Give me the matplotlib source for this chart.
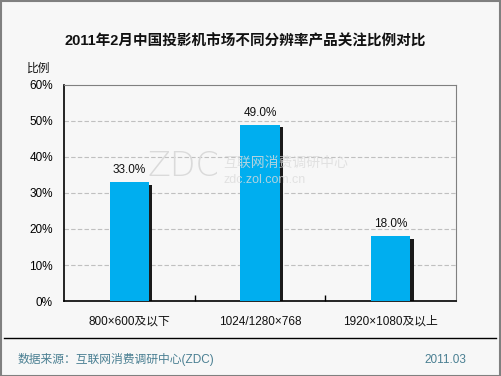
import matplotlib
matplotlib.use("Agg")
import matplotlib.pyplot as plt
from matplotlib.patches import Rectangle
from matplotlib.lines import Line2D

plt.rcParams['font.family'] = ['Liberation Sans', 'Noto Sans CJK SC', 'DejaVu Sans']

categories = ['800×600及以下', '1024/1280×768', '1920×1080及以上']
values = [33.0, 49.0, 18.0]
yticks = [0, 10, 20, 30, 40, 50, 60]
ytick_labels = ['0%', '10%', '20%', '30%', '40%', '50%', '60%']

W, H = 501, 376
fig = plt.figure(figsize=(W / 100, H / 100), dpi=100)
bg = '#f7f7f7'
fig.patch.set_facecolor(bg)

ax = fig.add_axes([64 / W, 1 - 301 / H, (456 - 64) / W, (301 - 85) / H])
ax.set_facecolor(bg)
x = list(range(len(categories)))
bw = 0.3
# shadow
sx = [i + 0.025 for i in x]
ax.bar(sx, [v - 0.8 for v in values], width=bw, color='#1a1a1a', zorder=2)
ax.bar(x, values, width=bw, color='#00aeef', zorder=3)
for i, v in zip(x, values):
    ax.text(i, v + 1.6, f'{v:.1f}%', ha='center', va='bottom', fontsize=8.5, color='#111111', zorder=4)

ax.set_xlim(-0.5, 2.5)
ax.set_ylim(0, 60)
ax.set_yticks(yticks)
ax.set_yticklabels(ytick_labels, fontsize=8.5)
ax.tick_params(axis='y', length=0, pad=8)
ax.set_xticks([0.5, 1.5])
ax.set_xticklabels([])
ax.tick_params(axis='x', direction='in', length=4, width=1, color='black')
for i, c in zip(x, categories):
    ax.text(i, -5.8, c, ha='center', va='center', fontsize=8.5, color='#111111')
for t in yticks[1:-1]:
    ax.axhline(t, color='#c0c0c0', lw=0.8, ls=(0, (4, 2)), zorder=1)
for s in ['top', 'right']:
    ax.spines[s].set_color('#808080')
for s in ['left', 'bottom']:
    ax.spines[s].set_color('black')
    ax.spines[s].set_linewidth(1.2)

# watermark
fig.text(219 / W, 1 - 167 / H, 'ZDC', fontsize=24, color='#dadada', ha='right', va='center', zorder=5,
         family='DejaVu Sans', fontweight='light')
fig.text(223 / W, 1 - 163 / H, '互联网消费调研中心', fontsize=10, color='#dcdcdc', ha='left', va='center',
         family=['Noto Sans CJK SC'], zorder=5, alpha=0.8)
fig.text(223 / W, 1 - 180 / H, 'zdc.zol.com.cn', fontsize=9, color='#dcdcdc', ha='left', va='center',
         zorder=5, alpha=0.8)

fig.text(245 / W, 1 - 41 / H, '2011年2月中国投影机市场不同分辨率产品关注比例对比', fontsize=10.5,
         fontweight='bold', ha='center', va='center', color='#111111')
fig.text(27 / W, 1 - 69 / H, '比例', fontsize=8.5, ha='left', va='center', color='#111111')

fig.add_artist(Line2D([4 / W, 496 / W], [1 - 338 / H, 1 - 338 / H], color='black', lw=1))
fig.text(18 / W, 1 - 360 / H, '数据来源：互联网消费调研中心(ZDC)', fontsize=8.5, color='#4a7f92', ha='left', va='center')
fig.text(466 / W, 1 - 360 / H, '2011.03', fontsize=8.5, color='#4a7f92', ha='right', va='center')
fig.add_artist(Rectangle((0.5 / W, 0.5 / H), (W - 1.5) / W, (H - 1.5) / H, fill=False, edgecolor='#808080', lw=1.5))

fig.savefig('out.png', dpi=100, facecolor=bg)
